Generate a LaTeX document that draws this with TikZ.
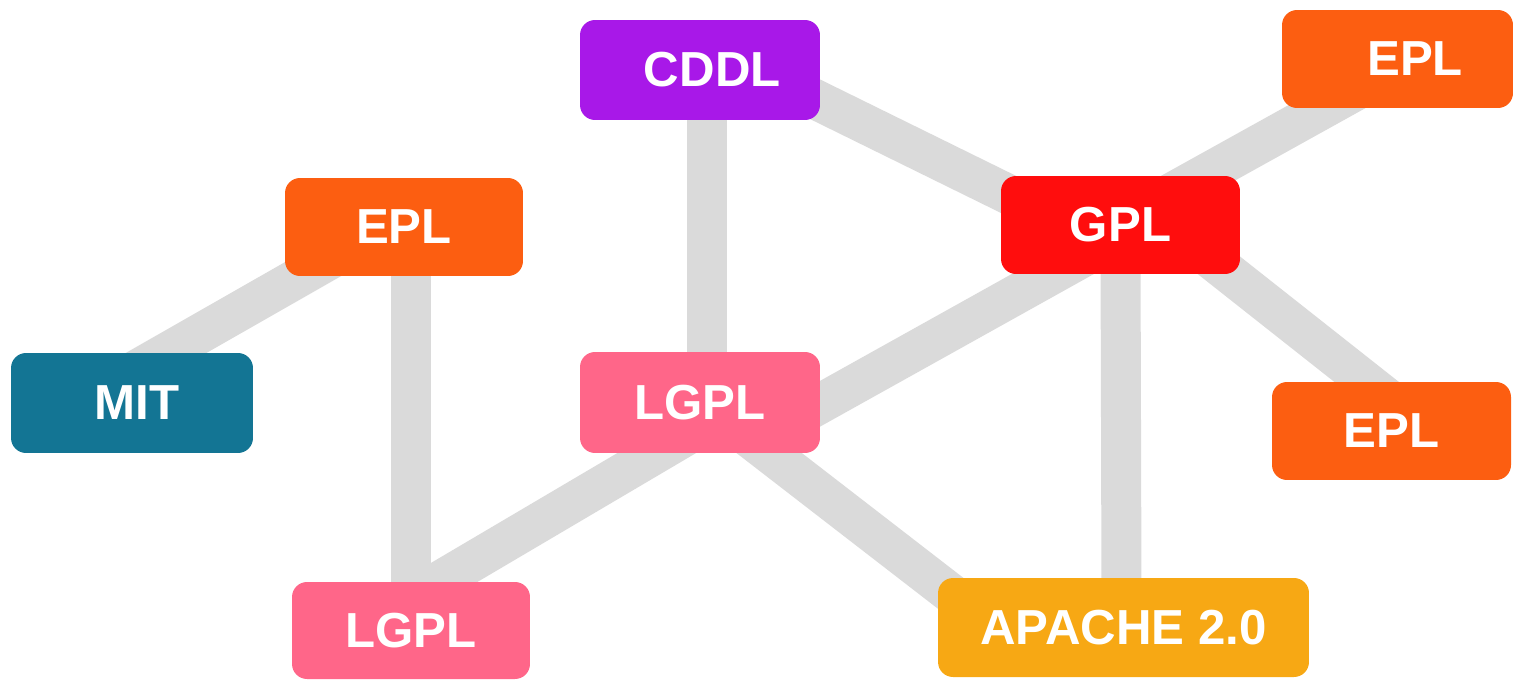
\documentclass[tikz,border=0pt]{standalone}
\usepackage{fontspec}
\setmainfont{Liberation Sans}
\usetikzlibrary{calc}
\definecolor{cOrange}{HTML}{FC5E11}
\definecolor{cRed}{HTML}{FF0D0D}
\definecolor{cPurple}{HTML}{A818E8}
\definecolor{cTeal}{HTML}{137594}
\definecolor{cPink}{HTML}{FF6689}
\definecolor{cAmber}{HTML}{F7A814}
\definecolor{cEdge}{HTML}{DADADA}
\tikzset{
  lic/.style={rounded corners=0.3cm, inner sep=0pt, minimum width=4.8cm, minimum height=2cm,
    text=white, font=\fontsize{28}{30}\selectfont\bfseries},
  edge/.style={draw=cEdge, line width=0.8cm}
}
\begin{document}
\begin{tikzpicture}[x=0.02cm,y=-0.02cm]
\useasboundingbox (0,0) rectangle (1513,679);
% nodes placed first (for names), painted over edges afterwards
\path
  (700,70)      coordinate (pcddl)
  (1397.5,59)   coordinate (pepltr)
  (404,227)     coordinate (pepll)
  (1120.5,225)  coordinate (pgpl)
  (132,403)     coordinate (pmit)
  (700,402.5)   coordinate (plgplc)
  (1391.5,431)  coordinate (peplr)
  (411,630.5)   coordinate (plgplb)
  (1123.5,627.5) coordinate (papache);
% edges
\draw[edge] ($(pmit)+(-1,-30)$) -- ($(pepll)+(-68,29)$);
\draw[edge] ($(pepll)+(7,23)$) -- ($(plgplb)+(0,-30)$);
\draw[edge] ($(pcddl)+(7,20)$) -- ($(plgplc)+(7,-22)$);
\draw[edge] ($(pcddl)+(80,12)$) -- ($(pgpl)+(-60,-5)$);
\draw[edge] ($(pgpl)+(40,-26)$) -- ($(pepltr)+(-37,29)$);
\draw[edge] ($(pgpl)+(79,25)$) -- ($(peplr)+(-2,-31)$);
\draw[edge] ($(pgpl)+(0,25)$) -- ($(papache)+(-2,-27)$);
\draw[edge] ($(plgplc)+(90,18)$) -- ($(pgpl)+(-30,28)$);
\draw[edge] ($(plgplc)+(40,28)$) -- ($(papache)+(-126,2)$);
\draw[edge] ($(plgplc)+(0,25)$) -- ($(plgplb)+(-1,-32)$);
% license boxes
\node[lic, fill=cPurple] (cddl) at (pcddl) {\hspace{14pt}CDDL};
\node[lic, fill=cOrange, minimum width=4.62cm, minimum height=1.96cm] (epltr) at (pepltr) {\hspace{20pt}EPL};
\node[lic, fill=cOrange, minimum width=4.76cm, minimum height=1.96cm] (epll) at (pepll) {EPL};
\node[lic, fill=cRed, minimum width=4.78cm, minimum height=1.96cm] (gpl) at (pgpl) {GPL};
\node[lic, fill=cTeal, minimum width=4.84cm] (mit) at (pmit) {\hspace{6pt}MIT};
\node[lic, fill=cPink, minimum height=2.02cm] (lgplc) at (plgplc) {LGPL};
\node[lic, fill=cOrange, minimum width=4.78cm, minimum height=1.96cm] (eplr) at (peplr) {EPL};
\node[lic, fill=cPink, minimum width=4.76cm, minimum height=1.94cm] (lgplb) at (plgplb) {LGPL};
\node[lic, fill=cAmber, minimum width=7.42cm, minimum height=1.98cm] (apache) at (papache) {APACHE 2.0};
\end{tikzpicture}
\end{document}
